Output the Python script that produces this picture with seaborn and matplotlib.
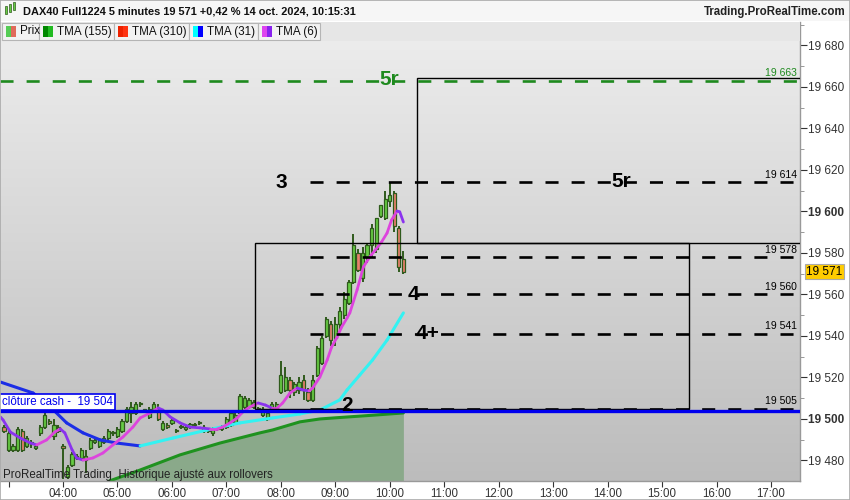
import numpy as np
import pandas as pd
import matplotlib
matplotlib.use("Agg")
import matplotlib.pyplot as plt
import seaborn as sns
from matplotlib.patches import Rectangle
from matplotlib.colors import LinearSegmentedColormap
from matplotlib.ticker import MultipleLocator

# ---- data ----
# 5 minute candles, first one at 02:55
first_candle = "02:55"
opens = [19496, 19485, 19485, 19485, 19494, 19487, 19488, 19486, 19493, 19496,
         19499, 19492, 19496, 19487, 19472, 19478, 19481, 19481, 19480, 19486,
         19489, 19487, 19489, 19491, 19493, 19492, 19494, 19499, 19503, 19503,
         19507, 19504, 19501, 19505, 19505, 19495, 19497, 19498, 19494, 19496,
         19495, 19496, 19497, 19498, 19496, 19494, 19493, 19495, 19495, 19496,
         19497, 19498, 19503, 19506, 19506, 19506, 19505.5, 19502, 19500, 19505,
         19505, 19513, 19514, 19519, 19513, 19514, 19519, 19513, 19509, 19521,
         19527, 19540, 19546, 19539, 19546, 19550, 19556, 19566, 19580, 19568,
         19578, 19584, 19582, 19598, 19597, 19605, 19609, 19592, 19577]
highs = [19497, 19494, 19488, 19496, 19495, 19492, 19490, 19488, 19497, 19504,
         19500, 19500, 19497, 19488, 19478, 19484, 19483, 19486, 19485, 19491,
         19491, 19491, 19492, 19495, 19494, 19496, 19500, 19506, 19508, 19508,
         19508, 19505, 19506, 19508, 19507, 19499, 19498, 19500, 19495, 19497,
         19497, 19498, 19498, 19499, 19497, 19495, 19496, 19496, 19497, 19501,
         19504, 19503, 19512, 19511, 19510, 19509, 19506, 19506, 19504, 19508,
         19508, 19528, 19525, 19520, 19518, 19520, 19521, 19515, 19521, 19535,
         19540, 19549, 19547, 19549, 19554, 19561, 19567, 19589, 19582, 19583,
         19585, 19594, 19597, 19603, 19610, 19614, 19610, 19593, 19581]
lows = [19493, 19484, 19484, 19484, 19484, 19486, 19486, 19485, 19492, 19495,
        19497, 19490, 19493, 19471, 19471, 19477, 19480, 19480, 19474, 19485,
        19488, 19486, 19488, 19490, 19492, 19491, 19493, 19498, 19498, 19502,
        19506, 19503, 19500, 19504, 19499, 19494, 19495, 19497, 19493, 19495,
        19494, 19495, 19496, 19497, 19493, 19493, 19492, 19494, 19494, 19495,
        19496, 19497, 19502, 19505, 19505, 19505, 19504, 19501, 19499, 19504,
        19504, 19512, 19513, 19510, 19511, 19512, 19509, 19508, 19508, 19520,
        19526, 19539, 19535, 19535, 19543, 19548, 19555, 19565, 19571, 19566,
        19575, 19578, 19580, 19597, 19596, 19602, 19590, 19571, 19570]
closes = [19494, 19493, 19487, 19495, 19485, 19491, 19489, 19487, 19496, 19502,
          19498, 19497, 19494, 19486, 19477, 19483, 19482, 19485, 19482, 19490,
          19490, 19490, 19491, 19494, 19493.5, 19495, 19499, 19505, 19506, 19507,
          19507.5, 19504.5, 19505, 19507, 19500, 19498, 19496, 19499.5, 19494.5, 19496.5,
          19496, 19497.5, 19497.5, 19498.5, 19494, 19494.7, 19495, 19495.5, 19496, 19500,
          19503, 19502, 19511, 19510, 19509, 19508, 19504.5, 19505, 19503, 19507,
          19507, 19521, 19520, 19514, 19517, 19518, 19514, 19509, 19519, 19534,
          19539, 19548, 19538, 19546, 19552, 19558, 19566, 19584, 19572, 19580,
          19584, 19592, 19597, 19603, 19606, 19608, 19593, 19573, 19571]

# TMA(6)
tma6_time = ["02:51", "02:54", "03:02", "03:13", "03:24", "03:31", "03:42", "03:51", "03:57", "04:02",
             "04:10", "04:15", "04:22", "04:33", "04:44", "04:55", "05:06", "05:17", "05:25", "05:36",
             "05:45", "05:50", "05:58", "06:09", "06:20", "06:31", "06:42", "06:50", "06:56", "07:04",
             "07:12", "07:18", "07:26", "07:35", "07:43", "07:50", "07:56", "08:02", "08:10", "08:18",
             "08:24", "08:31", "08:35", "08:43", "08:51", "08:56", "09:02", "09:07", "09:13", "09:16",
             "09:24", "09:31", "09:38", "09:44", "09:51", "09:57", "10:02", "10:08", "10:11", "10:15"]
tma6 = [19501.0, 19499.5, 19493.7, 19490.8, 19488.4, 19487.5, 19489.9, 19493.7, 19495.2, 19493.3,
        19485.1, 19481.2, 19480.2, 19481.2, 19483.6, 19487.5, 19491.3, 19496.1, 19500.5, 19502.9,
        19505.3, 19504.3, 19501.0, 19498.1, 19496.1, 19495.7, 19495.2, 19495.2, 19496.1, 19498.1,
        19500.5, 19503.4, 19505.8, 19507.7, 19506.7, 19505.3, 19505.3, 19507.7, 19512.5, 19514.9,
        19514.0, 19513.5, 19514.9, 19520.2, 19528.4, 19534.7, 19539.5, 19544.3, 19548.7, 19551.1,
        19562.2, 19573.3, 19578.1, 19581.4, 19585.3, 19589.6, 19595.9, 19600.2, 19599.8, 19594.9]

# TMA(31)
tma31_time = ["02:51", "03:27", "03:46", "04:04", "04:22", "04:41", "04:59", "05:25", "06:01", "06:39",
              "07:15", "07:51", "08:21", "08:43", "09:05", "09:13", "09:27", "09:41", "09:57", "10:15"]
tma31 = [19517.8, 19512.5, 19505.8, 19498.1, 19493.3, 19489.9, 19488.4, 19487.0, 19490.8, 19494.7,
         19498.1, 19500.5, 19502.4, 19504.3, 19509.2, 19514.0, 19521.2, 19528.4, 19538.0, 19551.1]

# TMA(155)
tma155_time = ["04:41", "04:51", "05:25", "06:09", "06:53", "07:37", "07:51", "08:21", "08:43", "09:05", "09:38", "10:15"]
tma155 = [19466.0, 19470.1, 19475.4, 19482.7, 19488.4, 19493.3, 19494.7, 19498.6, 19500.0, 19500.7, 19501.7, 19502.9]

# horizontal levels
level_values = [19614, 19578, 19560, 19541, 19505]
level_labels = ["19 614", "19 578", "19 560", "19 541", "19 505"]
green_level = 19663
cash_close = 19504
last_price = 19571

# zone boxes
box1 = ("07:31", "15:30", 19505, 19585)
box2 = ("10:30", "17:40", 19585, 19664.5)

# big annotations (text, time, price, colour)
marks = [("5r", "10:00", 19663.5, "#1e8a1e"), ("3", "08:00", 19614, "black"),
         ("5r", "14:15", 19614.5, "black"), ("4", "10:26", 19560, "black"),
         ("4+", "10:42", 19541, "black"), ("2", "09:13", 19506.5, "black")]

xtick_hours = list(range(3, 18))
xtick_labels = [""] + ["%02d:00" % h for h in range(4, 18)]

title = "DAX40 Full1224 5 minutes 19 571 +0,42 % 14 oct. 2024, 10:15:31"


def hrs(s):
    h, m = s.split(":")
    return int(h) + int(m) / 60


def two_tone(ax, t, v, up, down, lw):
    t = np.asarray(t)
    v = np.asarray(v)
    for k in range(len(t) - 1):
        col = up if v[k + 1] >= v[k] else down
        ax.plot(t[k:k + 2], v[k:k + 2], color=col, lw=lw,
                solid_capstyle="round", zorder=5)


sns.set_theme(style="white")
plt.rcParams["font.family"] = ["Liberation Sans", "DejaVu Sans"]
plt.rcParams["lines.scale_dashes"] = False

W, H = 850, 500
fig = plt.figure(figsize=(8.5, 5), dpi=100)
fig.patch.set_facecolor("white")
ax = fig.add_axes([0, 1 - 481 / H, 800 / W, (481 - 22) / H])

x0, x1 = 2.843, 2.843 + 800 / 54.46
y0, y1 = 19470.1, 19691.3
ax.set_xlim(x0, x1)
ax.set_ylim(y0, y1)

# background gradient
grad = LinearSegmentedColormap.from_list("bg", ["#eeeeee", "#bcbcbc"])
ax.imshow(np.linspace(0, 1, 256).reshape(-1, 1), cmap=grad, aspect="auto",
          extent=[x0, x1, y0, y1], origin="upper", zorder=0)

# TMA(155) with filled area
df155 = pd.DataFrame({"t": [hrs(s) for s in tma155_time], "v": tma155})
ax.fill_between(df155["t"], df155["v"], y0 - 10, color="#8aa98a", zorder=1, lw=0)
sns.lineplot(data=df155, x="t", y="v", ax=ax, color="#1f921f", lw=2.2, zorder=2)

# candles
df = pd.DataFrame({"o": opens, "h": highs, "l": lows, "c": closes})
df["t"] = hrs(first_candle) + np.arange(len(df)) * 5 / 60
up = df["c"] >= df["o"]
ax.vlines(df["t"], df["l"], df["h"], color="#2f5a1c", lw=1.4, zorder=3)
body = (df["c"] - df["o"]).abs().clip(lower=0.6)
ax.bar(df["t"], body, bottom=df[["o", "c"]].min(axis=1), width=0.06,
       color=np.where(up, "#66cc44", "#e8806c"), edgecolor="#2f5a1c",
       linewidth=0.9, zorder=4)

# moving averages
two_tone(ax, [hrs(s) for s in tma31_time], tma31, "#33f2f2", "#1c2ee6", 2.2)
two_tone(ax, [hrs(s) for s in tma6_time], tma6, "#dd44dd", "#8a33ee", 2.0)

# zone boxes
for a, b, lo, hi in (box1, box2):
    ax.add_patch(Rectangle((hrs(a), lo), hrs(b) - hrs(a), hi - lo, fill=False,
                           ec="black", lw=1.0, zorder=6))

# levels
ax.plot([x0, x1], [green_level, green_level], color="#1e8a1e", lw=1.9,
        dashes=(9.4, 9.4), zorder=7)
ax.text(x1 - 0.05, green_level + 1.2, "19 663", color="#1e8a1e", fontsize=7.5,
        ha="right", va="bottom", zorder=8)
for v, lab in zip(level_values, level_labels):
    ax.plot([hrs("08:32"), x1], [v, v], color="black", lw=1.9,
            dashes=(9.4, 9.4), zorder=7)
    ax.text(x1 - 0.05, v + 1.2, lab, color="black", fontsize=7.5,
            ha="right", va="bottom", zorder=8)

ax.plot([x0, x1], [cash_close, cash_close], color="#0000ee", lw=2.4, zorder=7)
ax.text(x0 + 0.03, cash_close + 1.3, "clôture cash -  19 504", color="#0000ee",
        fontsize=8.3, ha="left", va="bottom", zorder=9,
        bbox=dict(boxstyle="square,pad=0.2", fc="white", ec="#0000ee", lw=1.2))

for txt, tm, v, col in marks:
    ax.text(hrs(tm), v, txt, color=col, fontsize=15, fontweight="bold",
            ha="center", va="center", zorder=9)

ax.text(0.004, 0.012, "ProRealTime Trading  Historique ajusté aux rollovers",
        transform=ax.transAxes, fontsize=8.3, color="#222222", ha="left",
        va="center", zorder=9)

# axes
ax.set_xticks([float(h) for h in xtick_hours])
ax.set_xticklabels(xtick_labels)
ax.yaxis.tick_right()
yt = list(range(19480, 19700, 20))
ax.set_yticks(yt)
ax.set_yticklabels([f"{v:,}".replace(",", " ") for v in yt])
ax.yaxis.set_minor_locator(MultipleLocator(10))
for lab, v in zip(ax.get_yticklabels(), yt):
    if v in (19500, 19600):
        lab.set_fontweight("bold")
        lab.set_fontsize(9)
ax.tick_params(axis="y", which="major", right=True, length=5, width=0.8,
               colors="#333333", labelsize=8.5, pad=1, direction="out")
ax.tick_params(axis="y", which="minor", right=True, length=3, width=0.6,
               color="#888888")
ax.tick_params(axis="x", bottom=True, length=4, width=0.8, colors="#333333",
               labelsize=8.3, pad=1, direction="out")
ax.set_xlabel("")
ax.set_ylabel("")
for side in ("left", "top"):
    ax.spines[side].set_visible(False)
for side in ("right", "bottom"):
    ax.spines[side].set_color("#999999")
    ax.spines[side].set_linewidth(1)

# last price tag
ax.text(1.008, last_price, "19 571", transform=ax.get_yaxis_transform(),
        fontsize=8.5, color="black", ha="left", va="center", zorder=10,
        bbox=dict(boxstyle="square,pad=0.15", fc="#ffcc00", ec="#aaaaaa", lw=0.8),
        clip_on=False)


# header and legend strip (figure coords from pixels)
def px(x, y):
    return x / W, 1 - y / H


def box(xa, ya, xb, yb, fc, ec="none", lw=0.8):
    fig.add_artist(Rectangle(px(xa, yb), (xb - xa) / W, (yb - ya) / H,
                             transform=fig.transFigure, fc=fc, ec=ec, lw=lw))


box(0, 0, 850, 21, "#f6f6f6")
for k, (hh, hl) in enumerate([(6, 14), (4, 12), (2, 10)]):
    box(5 + 4 * k, hh, 7 + 4 * k, hl, "#66cc44", "#2f5a1c", 0.5)
fig.text(*px(23, 11.5), title, fontsize=7.9, fontweight="bold", color="#111111",
         va="center", ha="left")
fig.text(*px(846, 11.5), "Trading.ProRealTime.com", fontsize=8.3,
         fontweight="bold", color="#222222", va="center", ha="right")

box(0, 22, 800, 41, "#e6e6e6")
cells = [(2, 39, "Prix", "#55cc55", "#e06a5a"),
         (39, 114, "TMA (155)", "#008800", "#22bb22"),
         (114, 189, "TMA (310)", "#ee2200", "#ff3311"),
         (189, 258, "TMA (31)", "#00ffff", "#0000ff"),
         (258, 320, "TMA (6)", "#dd44ee", "#8822ee")]
for xa, xb, lab, c1, c2 in cells:
    box(xa, 23, xb, 40, "#f2f2f2", "#b5b5b5", 0.8)
    box(xa + 4, 26, xa + 9, 37, c1)
    box(xa + 9, 26, xa + 14, 37, c2)
    fig.text(*px(xa + 18, 31.5), lab, fontsize=8.4, color="#111111",
             va="center", ha="left")

fig.add_artist(Rectangle((0, 0), 1, 1, transform=fig.transFigure, fill=False,
                         ec="#aaaaaa", lw=1.2))

fig.savefig("out.png", dpi=100)
